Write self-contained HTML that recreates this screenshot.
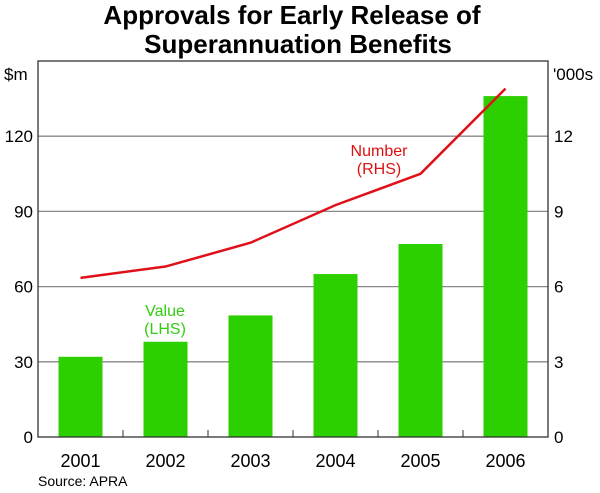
<!DOCTYPE html>
<html><head><meta charset="utf-8"><style>
body{margin:0;background:#fff;}
svg text{font-family:"Liberation Sans",Arial,sans-serif;}
</style></head><body>
<svg id="chart" width="600" height="488" xmlns="http://www.w3.org/2000/svg">
<text x="292" y="24" text-anchor="middle" font-size="26" font-weight="bold">Approvals for Early Release of</text>
<text x="298" y="53" text-anchor="middle" font-size="26" font-weight="bold">Superannuation Benefits</text>
<text x="4" y="80" font-size="17">$m</text>
<text x="553" y="80" font-size="17">'000s</text>
<g id="grid"></g><g id="bars"></g><g id="line"></g><g id="axes"></g>
<text x="165" y="316" text-anchor="middle" font-size="16" fill="#33cc11">Value</text>
<text x="165" y="334" text-anchor="middle" font-size="16" fill="#33cc11">(LHS)</text>
<text x="379" y="156" text-anchor="middle" font-size="16" fill="#dd1111">Number</text>
<text x="379" y="174" text-anchor="middle" font-size="16" fill="#dd1111">(RHS)</text>
<text x="38" y="486" font-size="14">Source: APRA</text>
</svg>
<script>
const categories=["2001","2002","2003","2004","2005","2006"];
const values=[32,38,48.5,65,77,136];
const numbers=[6.35,6.8,7.75,9.25,10.5,13.9];
const leftTicks=[0,30,60,90,120];
const rightTicks=[0,3,6,9,12];
const L=38,R=548,T=61,B=437;
const NS="http://www.w3.org/2000/svg";
const bw=(R-L)/categories.length;
const xc=i=>L+bw*(i+0.5);
const yL=v=>B-(v/150)*(B-T);
const yR=v=>B-(v/15)*(B-T);
function mk(tag,attrs,parent,text){const e=document.createElementNS(NS,tag);for(const k in attrs)e.setAttribute(k,attrs[k]);if(text!==undefined)e.textContent=text;document.getElementById(parent).appendChild(e);return e;}
leftTicks.forEach((t,i)=>{
 if(t>0){const g=mk('line',{x1:L,x2:R,y1:yL(t),y2:yL(t),stroke:'#888','stroke-width':1.3},'grid');
 
 }
 const a=mk('text',{x:L-5,y:yL(t)+6,'text-anchor':'end','font-size':17},'axes',t);
 
 
 const b=mk('text',{x:R+6,y:yR(rightTicks[i])+6,'font-size':17},'axes',rightTicks[i]);
 
 
});
values.forEach((v,i)=>{
 const r=mk('rect',{x:xc(i)-22,y:yL(v),width:44,height:B-yL(v),fill:'#2ccf00'},'bars');
 
 
 const t=mk('text',{x:xc(i),y:B+30,'text-anchor':'middle','font-size':18},'axes',categories[i]);
 
 
 if(i>0){const k=mk('line',{x1:L+bw*i,x2:L+bw*i,y1:B,y2:B-7,stroke:'#333'},'axes');
 
 }
});
const pl=mk('polyline',{points:numbers.map((n,i)=>xc(i)+','+yR(n)).join(' '),fill:'none',stroke:'#e0101a','stroke-width':2.5},'line');


const fr=mk('rect',{x:L,y:T,width:R-L,height:B-T,fill:'none',stroke:'#333','stroke-width':1.3},'axes');


</script>
</body></html>
